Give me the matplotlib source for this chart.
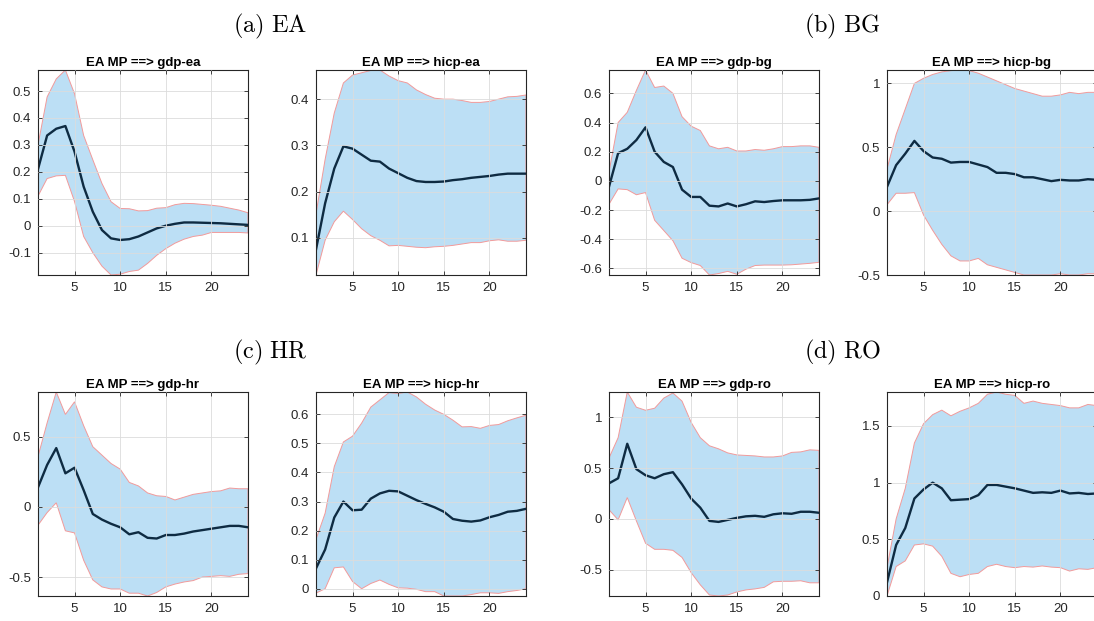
import numpy as np
import matplotlib
matplotlib.use("Agg")
import matplotlib.pyplot as plt
from matplotlib.ticker import FormatStrFormatter

plt.rcParams['font.family'] = ['Liberation Sans', 'DejaVu Sans']
plt.rcParams['mathtext.fontset'] = 'cm'
plt.rcParams['axes.unicode_minus'] = False

horizon = np.arange(1, 25)

# impulse responses: median, lower and upper bands
gdp_ea_med = [0.21, 0.335, 0.36, 0.37, 0.275, 0.145, 0.052, -0.016, -0.047, -0.053, -0.05, -0.04,
              -0.025, -0.01, 0.0, 0.007, 0.012, 0.012, 0.011, 0.01, 0.009, 0.007, 0.005, 0.003]
gdp_ea_lo = [0.11, 0.175, 0.185, 0.187, 0.09, -0.04, -0.1, -0.15, -0.183, -0.18, -0.17, -0.165,
             -0.14, -0.11, -0.085, -0.065, -0.05, -0.04, -0.035, -0.025, -0.025, -0.025, -0.025, -0.027]
gdp_ea_hi = [0.3, 0.478, 0.545, 0.578, 0.49, 0.335, 0.245, 0.157, 0.089, 0.064, 0.063, 0.055,
             0.056, 0.065, 0.067, 0.078, 0.083, 0.082, 0.079, 0.076, 0.072, 0.065, 0.058, 0.048]

hicp_ea_med = [0.075, 0.175, 0.25, 0.298, 0.293, 0.28, 0.267, 0.265, 0.25, 0.24, 0.23, 0.223,
               0.221, 0.221, 0.222, 0.225, 0.227, 0.23, 0.232, 0.234, 0.237, 0.239, 0.239, 0.239]
hicp_ea_lo = [0.02, 0.095, 0.135, 0.158, 0.14, 0.12, 0.105, 0.095, 0.083, 0.084, 0.082, 0.08,
              0.079, 0.081, 0.082, 0.084, 0.087, 0.09, 0.09, 0.094, 0.096, 0.093, 0.093, 0.095]
hicp_ea_hi = [0.152, 0.27, 0.37, 0.435, 0.452, 0.457, 0.462, 0.463, 0.45, 0.44, 0.435, 0.42,
              0.41, 0.402, 0.4, 0.4, 0.397, 0.393, 0.393, 0.395, 0.4, 0.405, 0.406, 0.409]

gdp_bg_med = [-0.04, 0.19, 0.22, 0.28, 0.367, 0.2, 0.13, 0.095, -0.06, -0.11, -0.11, -0.17,
              -0.175, -0.155, -0.175, -0.16, -0.14, -0.145, -0.138, -0.133, -0.133, -0.133, -0.13, -0.12]
gdp_bg_lo = [-0.16, -0.055, -0.06, -0.095, -0.08, -0.27, -0.34, -0.41, -0.53, -0.56, -0.58, -0.645,
             -0.635, -0.62, -0.64, -0.605, -0.58, -0.577, -0.577, -0.577, -0.575, -0.57, -0.565, -0.558]
gdp_bg_hi = [0.06, 0.4, 0.47, 0.62, 0.76, 0.64, 0.65, 0.6, 0.44, 0.375, 0.345, 0.24,
             0.22, 0.23, 0.205, 0.205, 0.215, 0.21, 0.22, 0.235, 0.235, 0.24, 0.24, 0.23]

hicp_bg_med = [0.19, 0.36, 0.45, 0.55, 0.47, 0.42, 0.41, 0.38, 0.385, 0.385, 0.365, 0.345,
               0.3, 0.3, 0.29, 0.265, 0.265, 0.25, 0.235, 0.245, 0.24, 0.24, 0.25, 0.245]
hicp_bg_lo = [0.05, 0.14, 0.14, 0.145, -0.03, -0.15, -0.26, -0.35, -0.39, -0.39, -0.37, -0.42,
              -0.44, -0.46, -0.48, -0.5, -0.5, -0.5, -0.5, -0.49, -0.5, -0.5, -0.49, -0.49]
hicp_bg_hi = [0.33, 0.6, 0.8, 1.0, 1.04, 1.07, 1.09, 1.1, 1.105, 1.1, 1.08, 1.05,
              1.02, 0.99, 0.96, 0.94, 0.92, 0.9, 0.9, 0.91, 0.93, 0.92, 0.93, 0.93]

gdp_hr_med = [0.14, 0.3, 0.42, 0.24, 0.28, 0.12, -0.05, -0.09, -0.12, -0.145, -0.195, -0.18,
              -0.22, -0.225, -0.2, -0.2, -0.19, -0.175, -0.165, -0.155, -0.145, -0.135, -0.135, -0.145]
gdp_hr_lo = [-0.13, -0.04, 0.03, -0.17, -0.185, -0.38, -0.52, -0.57, -0.585, -0.585, -0.615, -0.615,
             -0.635, -0.61, -0.57, -0.55, -0.535, -0.525, -0.5, -0.495, -0.49, -0.495, -0.48, -0.475]
gdp_hr_hi = [0.36, 0.6, 0.82, 0.66, 0.75, 0.58, 0.43, 0.37, 0.31, 0.27, 0.175, 0.15,
             0.1, 0.08, 0.075, 0.05, 0.07, 0.09, 0.1, 0.11, 0.115, 0.135, 0.13, 0.13]

hicp_hr_med = [0.07, 0.135, 0.245, 0.3, 0.27, 0.272, 0.31, 0.328, 0.337, 0.335, 0.32, 0.305,
               0.292, 0.28, 0.265, 0.24, 0.234, 0.231, 0.235, 0.246, 0.254, 0.265, 0.268, 0.275]
hicp_hr_lo = [-0.015, 0.0, 0.072, 0.075, 0.025, 0.0, 0.018, 0.03, 0.015, 0.003, 0.002, -0.002,
              -0.01, -0.01, -0.025, -0.025, -0.025, -0.02, -0.014, -0.014, -0.016, -0.01, -0.006, 0.0]
hicp_hr_hi = [0.17, 0.26, 0.42, 0.505, 0.525, 0.57, 0.625, 0.65, 0.675, 0.672, 0.677, 0.66,
              0.635, 0.615, 0.6, 0.58, 0.557, 0.558, 0.552, 0.562, 0.565, 0.578, 0.588, 0.597]

gdp_ro_med = [0.35, 0.4, 0.74, 0.49, 0.43, 0.4, 0.44, 0.46, 0.34, 0.2, 0.11, -0.02,
              -0.03, -0.01, 0.01, 0.025, 0.03, 0.02, 0.045, 0.055, 0.05, 0.07, 0.07, 0.06]
gdp_ro_lo = [0.09, -0.01, 0.21, -0.02, -0.24, -0.3, -0.3, -0.31, -0.38, -0.53, -0.65, -0.75,
             -0.76, -0.75, -0.72, -0.7, -0.69, -0.675, -0.62, -0.615, -0.615, -0.61, -0.63, -0.63]
gdp_ro_hi = [0.6, 0.8, 1.25, 1.1, 1.07, 1.09, 1.19, 1.24, 1.16, 0.95, 0.8, 0.72,
             0.69, 0.65, 0.63, 0.625, 0.62, 0.61, 0.61, 0.62, 0.655, 0.66, 0.68, 0.675]

hicp_ro_med = [0.12, 0.45, 0.6, 0.86, 0.94, 1.0, 0.95, 0.845, 0.85, 0.855, 0.89, 0.98,
               0.98, 0.965, 0.95, 0.93, 0.91, 0.915, 0.91, 0.93, 0.905, 0.91, 0.9, 0.905]
hicp_ro_lo = [0.0, 0.26, 0.31, 0.45, 0.46, 0.44, 0.35, 0.2, 0.17, 0.19, 0.2, 0.26,
              0.28, 0.26, 0.25, 0.26, 0.255, 0.265, 0.255, 0.25, 0.22, 0.24, 0.235, 0.25]
hicp_ro_hi = [0.25, 0.68, 0.95, 1.35, 1.52, 1.6, 1.64, 1.59, 1.63, 1.66, 1.7, 1.78,
              1.8, 1.78, 1.77, 1.7, 1.72, 1.7, 1.69, 1.68, 1.66, 1.66, 1.69, 1.68]

titles = ['EA MP ==> gdp-ea', 'EA MP ==> hicp-ea', 'EA MP ==> gdp-bg', 'EA MP ==> hicp-bg',
          'EA MP ==> gdp-hr', 'EA MP ==> hicp-hr', 'EA MP ==> gdp-ro', 'EA MP ==> hicp-ro']
series = [(gdp_ea_med, gdp_ea_lo, gdp_ea_hi), (hicp_ea_med, hicp_ea_lo, hicp_ea_hi),
          (gdp_bg_med, gdp_bg_lo, gdp_bg_hi), (hicp_bg_med, hicp_bg_lo, hicp_bg_hi),
          (gdp_hr_med, gdp_hr_lo, gdp_hr_hi), (hicp_hr_med, hicp_hr_lo, hicp_hr_hi),
          (gdp_ro_med, gdp_ro_lo, gdp_ro_hi), (hicp_ro_med, hicp_ro_lo, hicp_ro_hi)]
yticks = [[-0.1, 0, 0.1, 0.2, 0.3, 0.4, 0.5], [0.1, 0.2, 0.3, 0.4],
          [-0.6, -0.4, -0.2, 0, 0.2, 0.4, 0.6], [-0.5, 0, 0.5, 1],
          [-0.5, 0, 0.5], [0, 0.1, 0.2, 0.3, 0.4, 0.5, 0.6],
          [-0.5, 0, 0.5, 1], [0, 0.5, 1, 1.5]]
group_labels = [r'$\mathrm{(a)\ EA}$', r'$\mathrm{(b)\ BG}$', r'$\mathrm{(c)\ HR}$', r'$\mathrm{(d)\ RO}$']

W, H = 1094, 621
fig = plt.figure(figsize=(W / 100, H / 100), dpi=100)

lefts = [38, 316, 609, 887]
rows = [(70, 275), (392, 596)]
ink = '#262626'

for i, (title, (med, lo, hi)) in enumerate(zip(titles, series)):
    top, bot = rows[i // 4]
    left = lefts[i % 4]
    ax = fig.add_axes([left / W, 1 - bot / H, 210 / W, (bot - top) / H])
    xs = np.concatenate([horizon, horizon[::-1]])
    ys = np.concatenate([hi, lo[::-1]])
    ax.fill(xs, ys, facecolor='#bcdff5', edgecolor='#f29a9a', linewidth=0.7)
    ax.plot(horizon, med, color='#0e2b42', linewidth=1.7)
    ax.set_xlim(1, 24)
    ax.set_ylim(min(lo), max(hi))
    ax.set_xticks([5, 10, 15, 20])
    ax.set_yticks(yticks[i])
    ax.yaxis.set_major_formatter(FormatStrFormatter('%g'))
    ax.grid(True, color='#dcdcdc', linewidth=0.6)
    ax.set_axisbelow(False)
    ax.tick_params(direction='in', length=3, width=0.6, top=True, right=True,
                   colors=ink, labelsize=9.5, labelcolor=ink, pad=5)
    for sp in ax.spines.values():
        sp.set_color(ink)
        sp.set_linewidth(0.8)
    ax.set_title(title, fontsize=9.5, fontweight='bold', color='black', pad=3)

for lab, (x, y) in zip(group_labels, [(270, 26), (842, 26), (270, 352), (842, 352)]):
    fig.text(x / W, 1 - y / H, lab, fontsize=17.5, ha='center', va='center')

fig.savefig('out.png', dpi=100)
